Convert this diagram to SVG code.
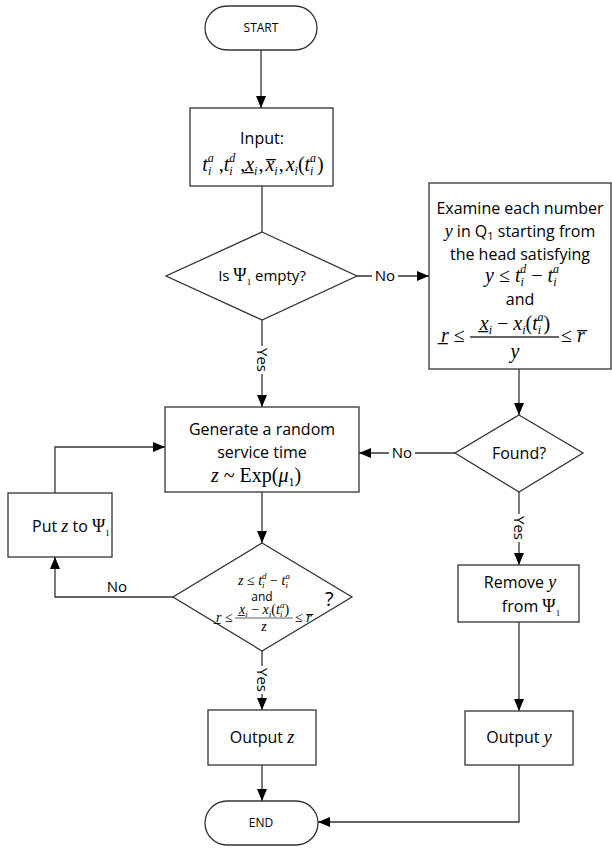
<svg xmlns="http://www.w3.org/2000/svg" width="612" height="850" viewBox="0 0 612 850">
<style>
.b{fill:#fff;stroke:#333;stroke-width:1.3}
.c{fill:none;stroke:#333;stroke-width:1.3}
.t{font-family:"Open Sans","Liberation Sans",sans-serif;font-size:16px;fill:#000}
.s{font-family:"Open Sans","Liberation Sans",sans-serif;font-size:12px;fill:#000}
.l{font-family:"Open Sans","Liberation Sans",sans-serif;font-size:15px;fill:#000}
.m{font-family:"Liberation Serif","Times New Roman",serif;font-size:20px;fill:#000}
.ms{font-family:"Liberation Serif","Times New Roman",serif;font-size:14px;fill:#000}
.i{font-style:italic}
.sc{font-size:12px}
.ss{font-size:9px}
.bg{fill:#fff}
</style>
<defs>
<marker id="a" viewBox="0 0 12 10" refX="12" refY="5" markerWidth="12" markerHeight="10" markerUnits="userSpaceOnUse" orient="auto"><path d="M0,0L12,5L0,10z" fill="#000"/></marker>
</defs>

<g id="connectors">
<path class="c" d="M261,50V108" marker-end="url(#a)"/>
<path class="c" d="M262,186V232"/>
<path class="c" d="M262,320V407" marker-end="url(#a)"/>
<path class="c" d="M357,276H429" marker-end="url(#a)"/>
<path class="c" d="M519,369V415" marker-end="url(#a)"/>
<path class="c" d="M455,453H359" marker-end="url(#a)"/>
<path class="c" d="M262,492V543" marker-end="url(#a)"/>
<path class="c" d="M173,597H55V557" marker-end="url(#a)"/>
<path class="c" d="M55,493V447H165" marker-end="url(#a)"/>
<path class="c" d="M262,651V710" marker-end="url(#a)"/>
<path class="c" d="M262,765V801" marker-end="url(#a)"/>
<path class="c" d="M519,492V565" marker-end="url(#a)"/>
<path class="c" d="M519,622V711" marker-end="url(#a)"/>
<path class="c" d="M519,765V822H318" marker-end="url(#a)"/>
<rect class="bg" x="372" y="267" width="26" height="18"/>
<text class="l" x="385" y="281" text-anchor="middle">No</text>
<rect class="bg" x="389" y="444" width="26" height="18"/>
<text class="l" x="402" y="458" text-anchor="middle">No</text>
<text class="l" x="117" y="592" text-anchor="middle">No</text>
<rect class="bg" x="253" y="346" width="18" height="28"/>
<text class="l" transform="translate(257,360) rotate(90)" text-anchor="middle">Yes</text>
<rect class="bg" x="253" y="666" width="18" height="28"/>
<text class="l" transform="translate(257,680) rotate(90)" text-anchor="middle">Yes</text>
<rect class="bg" x="510" y="514" width="18" height="28"/>
<text class="l" transform="translate(514,528) rotate(90)" text-anchor="middle">Yes</text>
</g>

<g id="start">
<rect class="b" x="205" y="6" width="112" height="44" rx="22"/>
<text class="s" x="261" y="32" text-anchor="middle">START</text>
</g>

<g id="input">
<rect class="b" x="190" y="108" width="143" height="78"/>
<text class="t" x="262" y="144" text-anchor="middle">Input:</text>
<text class="m" x="263" y="171" text-anchor="middle"><tspan class="i">t</tspan><tspan class="sc i" dy="4">i</tspan><tspan class="sc i" dx="-3.5" dy="-13">a</tspan><tspan dy="9"> ,</tspan><tspan class="i">t</tspan><tspan class="sc i" dy="4">i</tspan><tspan class="sc i" dx="-3.5" dy="-13">d</tspan><tspan dy="9"> ,</tspan><tspan class="i">x̲</tspan><tspan class="sc i" dy="4">i</tspan><tspan dy="-4" dx="1">,</tspan><tspan class="i" dx="2">x̅</tspan><tspan class="sc i" dy="4">i</tspan><tspan dy="-4" dx="1">,</tspan><tspan class="i" dx="2">x</tspan><tspan class="sc i" dy="4">i</tspan><tspan dy="-4">(</tspan><tspan class="i">t</tspan><tspan class="sc i" dy="4">i</tspan><tspan class="sc i" dx="-3.5" dy="-13">a</tspan><tspan dy="9" dx="1">)</tspan></text>
</g>

<g id="is-empty">
<polygon class="b" points="262,232 357,276 262,320 166,276"/>
<text class="l" x="262" y="281" text-anchor="middle">Is <tspan class="m" style="font-size:18px">Ψ</tspan><tspan class="ms ss" dy="4">1</tspan><tspan dy="-4"> empty?</tspan></text>
</g>

<g id="examine">
<rect class="b" x="429" y="183" width="182" height="186"/>
<text class="t" x="520" y="214" text-anchor="middle">Examine each number</text>
<text class="t" x="520" y="237" text-anchor="middle"><tspan class="m i" style="font-size:18px">y</tspan> in Q<tspan font-size="11" dy="3">1</tspan><tspan dy="-3"> starting from</tspan></text>
<text class="t" x="520" y="260" text-anchor="middle">the head satisfying</text>
<text class="m" x="522" y="282" text-anchor="middle"><tspan class="i">y</tspan> ≤ <tspan class="i">t</tspan><tspan class="sc i" dy="4">i</tspan><tspan class="sc i" dx="-3.5" dy="-13">d</tspan><tspan dy="9"> − </tspan><tspan class="i">t</tspan><tspan class="sc i" dy="4">i</tspan><tspan class="sc i" dx="-3.5" dy="-13">a</tspan></text>
<text class="t" x="520" y="305" text-anchor="middle">and</text>
<text class="m" x="441" y="342"><tspan class="i">r̲</tspan> ≤</text>
<text class="m" x="515" y="330" text-anchor="middle"><tspan class="i">x̲</tspan><tspan class="sc i" dy="4">i</tspan><tspan dy="-4"> − </tspan><tspan class="i">x</tspan><tspan class="sc i" dy="4">i</tspan><tspan dy="-4">(</tspan><tspan class="i">t</tspan><tspan class="sc i" dy="4">i</tspan><tspan class="sc i" dx="-3.5" dy="-13">a</tspan><tspan dy="9">)</tspan></text>
<line class="c" x1="470" y1="337" x2="559" y2="337"/>
<text class="m i" x="515" y="358" text-anchor="middle">y</text>
<text class="m" x="561" y="342">≤ <tspan class="i">r̅</tspan></text>
</g>

<g id="generate">
<rect class="b" x="165" y="407" width="194" height="85"/>
<text class="t" x="262" y="435" text-anchor="middle">Generate a random</text>
<text class="t" x="262" y="458" text-anchor="middle">service time</text>
<text class="m" x="256" y="482" text-anchor="middle"><tspan class="i">z</tspan> ~ Exp(<tspan class="i">μ</tspan><tspan class="sc" dy="4">1</tspan><tspan dy="-4">)</tspan></text>
</g>

<g id="found">
<polygon class="b" points="519,415 583,453 519,492 455,453"/>
<text class="t" x="519" y="459" text-anchor="middle">Found?</text>
</g>

<g id="put">
<rect class="b" x="8" y="493" width="104" height="64"/>
<text class="t" x="32" y="532">Put <tspan class="m i" style="font-size:18px">z</tspan> to <tspan class="m" style="font-size:18px">Ψ</tspan><tspan class="ms ss" dy="4">1</tspan></text>
</g>

<g id="check">
<polygon class="b" points="262,543 352,597 262,651 173,597"/>
<text class="ms" x="264" y="585" text-anchor="middle"><tspan class="i">z</tspan> ≤ <tspan class="i">t</tspan><tspan class="ss i" dy="3">i</tspan><tspan class="ss i" dx="-2.5" dy="-9">d</tspan><tspan dy="6"> − </tspan><tspan class="i">t</tspan><tspan class="ss i" dy="3">i</tspan><tspan class="ss i" dx="-2.5" dy="-9">a</tspan></text>
<text class="s" x="262" y="601" text-anchor="middle">and</text>
<text class="ms" x="216" y="622"><tspan class="i">r̲</tspan> ≤</text>
<text class="ms" x="264" y="614" text-anchor="middle"><tspan class="i">x̲</tspan><tspan class="ss i" dy="3">i</tspan><tspan dy="-3"> − </tspan><tspan class="i">x</tspan><tspan class="ss i" dy="3">i</tspan><tspan dy="-3">(</tspan><tspan class="i">t</tspan><tspan class="ss i" dy="3">i</tspan><tspan class="ss i" dx="-2.5" dy="-9">a</tspan><tspan dy="6">)</tspan></text>
<line class="c" x1="235" y1="618" x2="293" y2="618" style="stroke-width:0.8"/>
<text class="ms i" x="264" y="631" text-anchor="middle">z</text>
<text class="ms" x="295" y="622">≤ <tspan class="i">r̅</tspan></text>
<text class="t" x="325" y="606" style="font-size:20px">?</text>
</g>

<g id="remove">
<rect class="b" x="458" y="565" width="121" height="57"/>
<text class="t" x="520" y="588" text-anchor="middle">Remove <tspan class="m i" style="font-size:18px">y</tspan></text>
<text class="t" x="531" y="612" text-anchor="middle">from <tspan class="m" style="font-size:18px">Ψ</tspan><tspan class="ms ss" dy="4">1</tspan></text>
</g>

<g id="output-z">
<rect class="b" x="208" y="710" width="108" height="55"/>
<text class="t" x="262" y="743" text-anchor="middle">Output <tspan class="m i" style="font-size:18px">z</tspan></text>
</g>

<g id="output-y">
<rect class="b" x="465" y="711" width="108" height="54"/>
<text class="t" x="519" y="743" text-anchor="middle">Output <tspan class="m i" style="font-size:18px">y</tspan></text>
</g>

<g id="end">
<rect class="b" x="205" y="801" width="113" height="44" rx="22"/>
<text class="s" x="261" y="827" text-anchor="middle">END</text>
</g>
</svg>
